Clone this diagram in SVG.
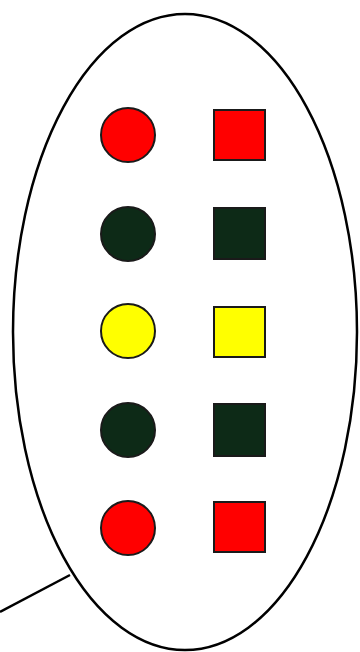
<svg xmlns="http://www.w3.org/2000/svg" width="360" height="652" viewBox="0 0 360 652">
<style>
.ell{fill:none;stroke:#000;stroke-width:2.5}
.ln{fill:none;stroke:#000;stroke-width:2.5}
.sh{stroke:#1a1a1a;stroke-width:2}
.red{fill:#ff0000}
.grn{fill:#0d2a17}
.yel{fill:#ffff00}
</style>
<rect width="360" height="652" fill="#fff"/>
<g id="group-ellipse"><ellipse class="ell" cx="185" cy="332" rx="172" ry="318"/></g>
<g id="connectors"><line class="ln" x1="0" y1="612" x2="70" y2="575"/></g>
<g id="c1"><circle class="sh red" cx="128" cy="135" r="27"/></g>
<g id="s1"><rect class="sh red" x="214" y="110" width="51" height="50"/></g>
<g id="c2"><circle class="sh grn" cx="128" cy="234" r="27"/></g>
<g id="s2"><rect class="sh grn" x="214" y="208" width="51" height="51"/></g>
<g id="c3"><circle class="sh yel" cx="128" cy="331" r="27"/></g>
<g id="s3"><rect class="sh yel" x="214" y="307" width="51" height="50"/></g>
<g id="c4"><circle class="sh grn" cx="128" cy="430" r="27"/></g>
<g id="s4"><rect class="sh grn" x="214" y="404" width="51" height="52"/></g>
<g id="c5"><circle class="sh red" cx="128" cy="528" r="27"/></g>
<g id="s5"><rect class="sh red" x="214" y="502" width="51" height="50"/></g>
</svg>
